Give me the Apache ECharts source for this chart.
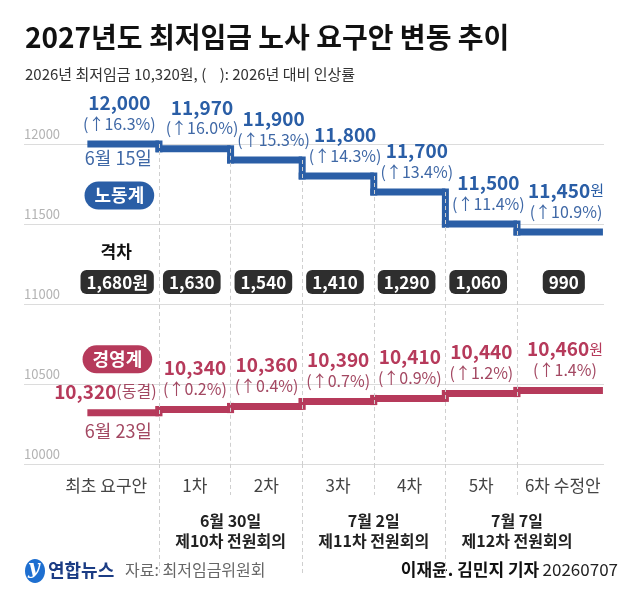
<!DOCTYPE html>
<html>
<head>
<meta charset="utf-8">
<script src="https://cdn.jsdelivr.net/npm/echarts@6/dist/echarts.min.js"></script>
<style>
  html, body { margin: 0; padding: 0; background: #fff; }
  #chart { width: 640px; height: 598px; }
</style>
</head>
<body>
<div id="chart"></div>
<script>
// data read from the graphic
const rounds = ['최초 요구안', '1차', '2차', '3차', '4차', '5차', '6차 수정안'];
const labor = [12000, 11970, 11900, 11800, 11700, 11500, 11450];
const laborRate = [16.3, 16.0, 15.3, 14.3, 13.4, 11.4, 10.9];
const mgmt = [10320, 10340, 10360, 10390, 10410, 10440, 10460];
const mgmtRate = [0, 0.2, 0.4, 0.7, 0.9, 1.2, 1.4];
const gaps = [1680, 1630, 1540, 1410, 1290, 1060, 990];
const yTicks = [10000, 10500, 11000, 11500, 12000];
const meetingDates = ['6월 30일', '7월 2일', '7월 7일'];
const meetingNames = ['제10차 전원회의', '제11차 전원회의', '제12차 전원회의'];
const meetingRounds = [[1, 2], [3, 4], [5, 6]];
const laborDate = '6월 15일';
const mgmtDate = '6월 23일';

// layout / style
const FONT = 'Noto Sans CJK KR';
const BLUE = '#2a5ea6';
const BLUE_SOFT = '#3f68a6';
const RED = '#b63a5b';
const RED_SOFT = '#a34862';
const LINE_W = 7;
const LAST_END = 7.2;      // last step runs a bit past its slot
const GAP_ROW = 11138;     // y level of the gap boxes row
const laborDx = [32, 43, 43, 43, 43, 43, 49];
const mgmtDx = [18, 36, 36, 36, 36, 36, 48];
const gapDx = [-6, -3, -3, -3, -3, -3, 11];

const fmt = v => v.toLocaleString('en-US');

var myChart = echarts.init(document.getElementById('chart'), null, { renderer: 'canvas' });

const labelRich = (color, soft) => ({
  a: { fontSize: 19, fontWeight: 'bold', color: color, lineHeight: 22, fontFamily: FONT },
  w: { fontSize: 15, color: color, lineHeight: 22, fontFamily: FONT },
  b: { fontSize: 16, color: soft, lineHeight: 20, fontFamily: FONT },
  f: { fontSize: 16, color: soft, lineHeight: 22, fontFamily: FONT }
});

const dashed = { color: '#cfcfcf', type: [4, 3], width: 1 };

// the step itself: one flat bar per round plus the riser into it
function stepShape(vals, color) {
  return {
    type: 'custom',
    z: 3,
    silent: true,
    data: vals.map((v, i) => [i, v, i === 0 ? v : vals[i - 1]]),
    renderItem: function (params, api) {
      const i = api.value(0);
      const end = i === vals.length - 1 ? LAST_END : i + 1;
      const p0 = api.coord([i, api.value(1)]);
      const p1 = api.coord([end, api.value(1)]);
      const pp = api.coord([i, api.value(2)]);
      const h = LINE_W / 2;
      const kids = [{
        type: 'rect',
        shape: { x: p0[0] - (i > 0 ? h : 0), y: p0[1] - h, width: p1[0] - p0[0] + (i > 0 ? h : 0), height: LINE_W },
        style: { fill: color }
      }];
      if (i > 0) {
        const top = Math.min(pp[1], p0[1]) - h;
        kids.push({
          type: 'rect',
          shape: { x: p0[0] - h, y: top, width: LINE_W, height: Math.abs(pp[1] - p0[1]) + LINE_W },
          style: { fill: color }
        });
      }
      return { type: 'group', children: kids };
    }
  };
}

// values and rates written above each round
function stepLabels(name, vals, rates, dx, color, soft, marks) {
  return {
    name: name,
    type: 'line',
    z: 4,
    symbol: 'circle',
    symbolSize: 1,
    showSymbol: true,
    showAllSymbol: true,
    clip: false,
    itemStyle: { color: 'rgba(0,0,0,0)' },
    lineStyle: { opacity: 0 },
    emphasis: { disabled: true },
    data: vals.map((v, i) => ({ value: [i, v], label: { offset: [dx[i], -10] } })),
    label: {
      show: true,
      position: 'top',
      distance: 0,
      align: 'center',
      verticalAlign: 'bottom',
      formatter: function (p) {
        const i = p.dataIndex;
        if (rates[i] === 0) return '{a|' + fmt(vals[i]) + '}{f|(동결)}';
        const num = i === vals.length - 1 ? '{a|' + fmt(vals[i]) + '}{w|원}' : '{a|' + fmt(vals[i]) + '}';
        return num + '\n{b|(↑' + rates[i].toFixed(1) + '%)}';
      },
      rich: labelRich(color, soft)
    },
    markPoint: {
      symbolSize: 1,
      itemStyle: { color: 'rgba(0,0,0,0)' },
      data: marks
    }
  };
}

const pill = (text, color, offset) => ({
  show: true, position: 'inside', offset: offset, formatter: text,
  backgroundColor: color, borderRadius: 14, padding: [4, 10, 4, 10],
  color: '#fff', fontSize: 18, fontWeight: 'bold', lineHeight: 20
});

const option = {
  animation: false,
  textStyle: { fontFamily: FONT },
  title: {
    text: '2027년도 최저임금 노사 요구안 변동 추이',
    subtext: '2026년 최저임금 10,320원, (    ): 2026년 대비 인상률',
    left: 20,
    top: 14,
    itemGap: 9,
    textStyle: { fontSize: 28, fontWeight: 'bold', color: '#111', lineHeight: 36, fontFamily: FONT },
    subtextStyle: { fontSize: 15, color: '#333', lineHeight: 20, fontFamily: FONT }
  },
  grid: { left: 24, right: 36, top: 144, height: 320 },
  xAxis: [
    {
      type: 'value',
      min: -0.885,
      max: 7.215,
      axisLine: { show: false },
      splitLine: { show: false },
      axisTick: { show: true, customValues: [1, 3, 5], length: 111, lineStyle: dashed },
      axisLabel: {
        customValues: rounds.map((_, i) => i + 0.5),
        margin: 13,
        fontSize: 17,
        color: '#444',
        formatter: function (v) {
          const i = Math.round(v - 0.5);
          if (i === 0) return '{l|' + rounds[i] + '}';
          if (i === rounds.length - 1) return '{r|' + rounds[i] + '}';
          return rounds[i];
        },
        rich: {
          l: { fontSize: 17, color: '#444', padding: [0, 34, 0, 0] },
          r: { fontSize: 17, color: '#444', padding: [0, 0, 0, 20] }
        }
      }
    },
    {
      type: 'value',
      position: 'bottom',
      min: -0.885,
      max: 7.215,
      axisLine: { show: false },
      splitLine: { show: false },
      axisTick: { show: true, customValues: [2, 4, 6], length: 31, lineStyle: dashed },
      axisLabel: {
        customValues: meetingRounds.map(r => (r[0] + r[1]) / 2 + 0.5),
        margin: 47,
        formatter: function (v) {
          const k = meetingRounds.findIndex(r => (r[0] + r[1]) / 2 + 0.5 === v);
          if (k < 0) return '';
          return '{m|' + meetingDates[k] + '}\n{m|' + meetingNames[k] + '}';
        },
        rich: { m: { fontSize: 16, fontWeight: 'bold', color: '#222', lineHeight: 20 } }
      }
    }
  ],
  yAxis: {
    type: 'value',
    min: yTicks[0],
    max: yTicks[yTicks.length - 1],
    interval: 500,
    axisLine: { show: false },
    axisTick: { show: false },
    splitLine: { lineStyle: { color: '#dcdcdc', width: 1 } },
    axisLabel: {
      inside: true,
      margin: 0,
      verticalAlign: 'bottom',
      padding: [0, 0, 3, 0],
      fontSize: 13,
      color: '#b3b3b3',
      formatter: v => String(v)
    }
  },
  series: [
    {
      name: 'gap',
      type: 'scatter',
      z: 1,
      symbolSize: 1,
      itemStyle: { color: 'rgba(0,0,0,0)', opacity: 1 },
      emphasis: { disabled: true },
      data: gaps.map((g, i) => ({
        value: [i + 0.5, GAP_ROW],
        label: { offset: [gapDx[i], 0] }
      })),
      label: {
        show: true,
        position: 'inside',
        opacity: 1,
        formatter: p => '{g|' + fmt(gaps[p.dataIndex]) + (p.dataIndex === 0 ? '원' : '') + '}',
        rich: {
          g: {
            backgroundColor: '#2e2e2e', borderRadius: 6, padding: [4, 6, 3, 6],
            color: '#fff', fontSize: 17, fontWeight: 'bold', lineHeight: 22, fontFamily: FONT
          }
        }
      },
      markPoint: {
        symbolSize: 1,
        itemStyle: { color: 'rgba(0,0,0,0)' },
        label: {
          show: true, position: 'inside', offset: [-7, -30],
          fontSize: 17, fontWeight: 'bold', color: '#111', formatter: '격차'
        },
        data: [{ coord: [0.5, GAP_ROW] }]
      },
      markLine: {
        silent: true,
        symbol: 'none',
        lineStyle: dashed,
        label: { show: false },
        data: [1, 2, 3, 4, 5, 6].map(k => [{ coord: [k, labor[k - 1]] }, { coord: [k, yTicks[0]] }])
      }
    },
    stepShape(labor, BLUE),
    stepShape(mgmt, RED),
    stepLabels('노동계', labor, laborRate, laborDx, BLUE, BLUE_SOFT, [
      { coord: [0, labor[0]], label: { show: true, position: 'inside', offset: [31, 15], formatter: laborDate, fontSize: 18, color: BLUE_SOFT } },
      { coord: [0, labor[0]], label: pill('노동계', BLUE, [32, 52]) }
    ]),
    stepLabels('경영계', mgmt, mgmtRate, mgmtDx, RED, RED_SOFT, [
      { coord: [0, mgmt[0]], label: pill('경영계', RED, [30, -53]) },
      { coord: [0, mgmt[0]], label: { show: true, position: 'inside', offset: [31, 19], formatter: mgmtDate, fontSize: 18, color: RED_SOFT } }
    ])
  ],
  graphic: [
    {
      type: 'ellipse', shape: { cx: 35, cy: 571, rx: 10, ry: 12 },
      style: { fill: '#1e6fd0' }
    },
    {
      type: 'text', left: 28, top: 559,
      style: { text: 'y', fontSize: 20, fontWeight: 'bold', fontStyle: 'italic', fill: '#fff', fontFamily: 'DejaVu Serif' }
    },
    {
      type: 'text', left: 48, top: 561,
      style: { text: '연합뉴스', fontSize: 18, fontWeight: 'bold', fill: '#1b3c84', fontFamily: FONT }
    },
    {
      type: 'text', left: 125, top: 562,
      style: { text: '자료: 최저임금위원회', fontSize: 16, fill: '#666', fontFamily: FONT }
    },
    {
      type: 'text', right: 22, top: 561,
      style: {
        text: '{n|이재윤. 김민지 기자} {d|20260707}',
        rich: {
          n: { fontSize: 17, fontWeight: 'bold', fill: '#111', fontFamily: FONT },
          d: { fontSize: 17, fill: '#222', fontFamily: FONT }
        }
      }
    }
  ]
};

myChart.setOption(option);
</script>
</body>
</html>
